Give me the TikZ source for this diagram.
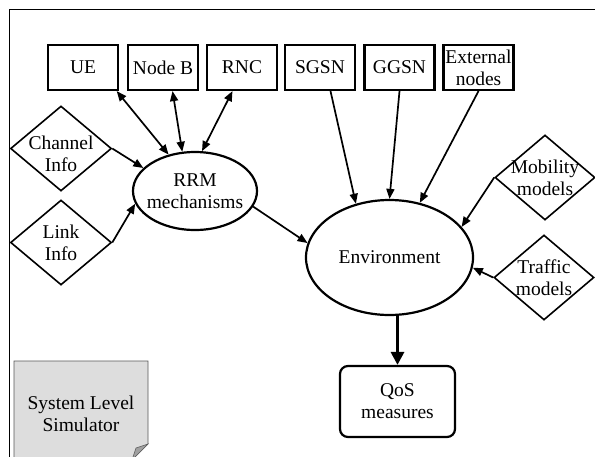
\documentclass[tikz,border=0pt]{standalone}
\usepackage{fontspec}
\setmainfont{Liberation Serif}
\usepackage{tikz}
\usetikzlibrary{arrows.meta,shapes,positioning,calc}
\definecolor{simgray}{RGB}{221,221,221}
\definecolor{foldgray}{RGB}{160,160,160}

\begin{document}
\begin{tikzpicture}[x=1pt,y=-1pt,
    font=\fontsize{19.5}{22}\selectfont,
    box/.style={draw,line width=2.2pt,minimum width=70pt,minimum height=45pt,inner sep=0pt,align=center},
    oval/.style={draw,ellipse,line width=2.2pt,inner sep=0pt},
    dmd/.style={draw,diamond,line width=1.6pt,minimum width=101pt,minimum height=85pt,inner sep=0pt},
    txt/.style={align=center,inner sep=0pt},
    arr/.style={line width=1.7pt,-{Triangle[length=10pt,width=8pt]}},
    dbl/.style={line width=1.7pt,{Triangle[length=10pt,width=8pt]}-{Triangle[length=10pt,width=8pt]}},
    fat/.style={line width=3pt,-{Triangle[length=13pt,width=13pt]}}]
    \useasboundingbox (0,0) rectangle (595,456);
    \clip (0,0) rectangle (595,456);
    % outer frame
    \draw[line width=1pt] (9,9) rectangle (620,480);
    % network elements on top
    \foreach \name/\x/\txt in {ue/83/UE, nodeb/163/Node B, rnc/242/RNC, sgsn/320/SGSN, ggsn/399.5/GGSN, ext/478.5/External\\nodes} {
        \node[box] (\name) at (\x,67.5) {\txt};
    }
    % inputs
    \node[dmd, label={[txt,yshift=-5pt]center:Channel\\Info}] (ch) at (61,148.5) {};
    \node[dmd, label={[txt]center:Link\\Info}] (lk) at (61,242.5) {};
    \node[dmd, minimum width=100pt, label={[txt]center:Mobility\\models}] (mob) at (545,177.5) {};
    \node[dmd, minimum width=100pt, label={[txt]center:Traffic\\models}] (trf) at (544,277.5) {};
    % blocks
    \node[oval, minimum width=124pt, minimum height=78pt, label={[txt]center:RRM\\mechanisms}] (rrm) at (195,191) {};
    \node[oval, minimum width=167pt, minimum height=115pt, label={[txt]center:Environment}] (env) at (389.5,257.5) {};
    \node[box, rounded corners=8pt, minimum width=115pt, minimum height=71pt] (qos) at (397.5,401.5) {QoS\\measures};
    % connectors
    \foreach \a/\b in {ue.-35/rrm.126, nodeb.-68/rrm.108, rnc.-112/rrm.80} {
        \draw[dbl] (\a) -- (\b);
    }
    \foreach \a/\b in {ch.east/rrm.156, lk.east/rrm.192, rrm.-15/env.170, sgsn.-66/env.122, ggsn.south/env.north, ext.south/env.61, mob.west/env.23, trf.west/env.-7} {
        \draw[arr] (\a) -- (\b);
    }
    \draw[fat] (env.south -| qos.north) -- (qos.north);
    % simulator note
    \filldraw[fill=simgray, draw=gray!70!black, line width=0.6pt] (14,361) -- (148,361) -- (148,444) -- (132,460) -- (14,460) -- cycle;
    \filldraw[fill=foldgray, draw=gray!70!black, line width=0.6pt] (148,444) -- (136,448) -- (132,460) -- cycle;
    \node[txt] (sim) at (81,414) {System Level\\Simulator};
\end{tikzpicture}
\end{document}
